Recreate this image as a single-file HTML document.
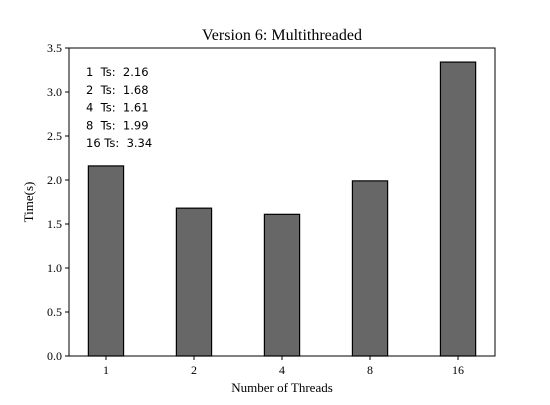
<!DOCTYPE html>
<html><head><meta charset="utf-8"><style>
body{margin:0;background:#fff}
svg text{font-family:"Liberation Serif","DejaVu Serif",serif;fill:#000}
.ann{font-family:"DejaVu Sans","Liberation Sans",sans-serif;font-size:11.5px;white-space:pre}
</style></head><body>
<svg id="chart" width="550" height="400" viewBox="0 0 550 400">
<rect width="550" height="400" fill="#fff"/>
<g id="bars"></g>
<rect x="69" y="48" width="426" height="308" fill="none" stroke="#000" stroke-width="1"/>
<g id="yticks"></g><g id="xticks"></g>
<text x="282" y="40" text-anchor="middle" font-size="16">Version 6: Multithreaded</text>
<text x="282" y="392" text-anchor="middle" font-size="13">Number of Threads</text>
<text transform="translate(33,202) rotate(-90)" text-anchor="middle" font-size="13">Time(s)</text>
<g id="ann"></g>
</svg>
<script>
const categories=["1","2","4","8","16"];
const times=[2.16,1.68,1.61,1.99,3.34];
const yTicks=[0,0.5,1.0,1.5,2.0,2.5,3.0,3.5];
const NS="http://www.w3.org/2000/svg";
const L=69,R=495,T=48,B=356,yMax=3.5;
const y=v=>B-(v/yMax)*(B-T);
const xmin=-0.42,xmax=categories.length-1+0.42;
const x=i=>L+(i-xmin)/(xmax-xmin)*(R-L);
const unit=(R-L)/(xmax-xmin);
function mk(t,a,p){const e=document.createElementNS(NS,t);for(const k in a)e.setAttribute(k,a[k]);p.appendChild(e);return e;}
const bars=document.getElementById('bars');
times.forEach((v,i)=>{
 const r=mk('rect',{x:x(i)-0.2*unit,y:y(v),width:0.4*unit,height:B-y(v),fill:'#676767',stroke:'#000','stroke-width':1.2},bars);
 
 
});
const yt=document.getElementById('yticks');
yTicks.forEach(v=>{
 mk('line',{x1:L-4,x2:L,y1:y(v),y2:y(v),stroke:'#000'},yt);
 const t=mk('text',{x:L-7,y:y(v)+4,'text-anchor':'end','font-size':12},yt);
 t.textContent=v.toFixed(1);
 
 
});
const xt=document.getElementById('xticks');
categories.forEach((c,i)=>{
 mk('line',{x1:x(i),x2:x(i),y1:B,y2:B+4,stroke:'#000'},xt);
 const t=mk('text',{x:x(i),y:B+18,'text-anchor':'middle','font-size':12},xt);
 t.textContent=c;
 
 
});
const an=document.getElementById('ann');
categories.forEach((c,i)=>{
 const t=mk('text',{x:86,y:76+i*17.8,class:'ann'},an);
 t.textContent=(c.length<2?c+"  ":c+" ")+"Ts:  "+times[i].toFixed(2);
 
 
});
</script>
</body></html>
